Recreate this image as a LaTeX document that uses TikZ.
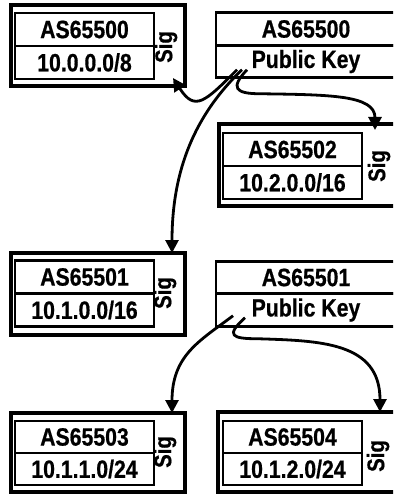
\documentclass[tikz,border=0pt]{standalone}
\usepackage{fontspec}
\setmainfont{Liberation Sans}[FakeStretch=0.85, FakeBold=0.6]
\usetikzlibrary{positioning,arrows.meta}

\begin{document}
\begin{tikzpicture}[x=1pt, y=-1pt,
    every node/.style={font=\bfseries\fontsize{25}{25}\selectfont, inner sep=0pt, outer sep=0pt},
    cert/.style={draw, line width=3.4pt, minimum width=174pt, minimum height=81pt},
    field/.style={draw, line width=2.9pt, minimum width=139pt, minimum height=33pt},
    keybox/.style={draw, line width=2.9pt, minimum width=180pt, minimum height=32.5pt},
    sig/.style={rotate=90, font=\bfseries\fontsize{24}{24}\selectfont},
    link/.style={line width=2.8pt, -{Triangle[length=13pt, width=13pt]}}]
    \useasboundingbox (0,0) rectangle (393,494);
    \clip (0,0) rectangle (393,494);

    % AS65500 certificate and key
    \node[cert] (c0) at (98,45.5) {};
    \node[field] (c0as) at (84.5,29.5) {AS65500};
    \node[field, below=0pt of c0as] (c0net) {10.0.0.0/8};
    \node[sig] (c0sig) at (166,47) {Sig};
    \node[keybox] (k0as) at (306,29) {AS65500};
    \node[keybox, below=0pt of k0as] (k0pub) {Public Key};

    % AS65502 certificate
    \node[cert, minimum width=178pt, minimum height=82pt] (c2) at (308,165) {};
    \node[field] (c2as) at (292.5,149.5) {AS65502};
    \node[field, below=0pt of c2as] (c2net) {10.2.0.0/16};
    \node[sig] (c2sig) at (379,166) {Sig};

    % AS65501 certificate and key
    \node[cert, minimum height=82pt] (c1) at (98,294) {};
    \node[field] (c1as) at (84.5,277) {AS65501};
    \node[field, below=0pt of c1as] (c1net) {10.1.0.0/16};
    \node[sig] (c1sig) at (165,293) {Sig};
    \node[keybox] (k1as) at (306,277.5) {AS65501};
    \node[keybox, below=0pt of k1as] (k1pub) {Public Key};

    % AS65503 / AS65504 certificates
    \node[cert, minimum height=79pt] (c3) at (98,452.5) {};
    \node[field, minimum height=32pt] (c3as) at (84.5,437) {AS65503};
    \node[field, minimum height=32pt, below=0pt of c3as] (c3net) {10.1.1.0/24};
    \node[sig] (c3sig) at (165,452) {Sig};
    \node[cert, minimum width=179pt, minimum height=80pt] (c4) at (307.5,452) {};
    \node[field, minimum height=32pt] (c4as) at (292.5,437) {AS65504};
    \node[field, minimum height=32pt, below=0pt of c4as] (c4net) {10.1.2.0/24};
    \node[sig] (c4sig) at (378,456) {Sig};

    % signing links
    \coordinate (k0s1) at ([shift={(21pt,8pt)}]k0pub.south west);
    \coordinate (k0s2) at ([shift={(26pt,8pt)}]k0pub.south west);
    \coordinate (k0s3) at ([shift={(31pt,8pt)}]k0pub.south west);
    \coordinate (k1s1) at ([shift={(17pt,10.5pt)}]k1pub.south west);
    \coordinate (k1s2) at ([shift={(29pt,8.5pt)}]k1pub.south west);
    \draw[link] (k0s1) .. controls +(-32,32) and +(22,34) .. ([shift={(-12pt,8pt)}]c0.south east);
    \draw[link] (k0s2) .. controls +(-47,45) and +(0,-83) .. ([xshift=-13pt]c1.north east);
    \draw[link] (k0s3) .. controls +(-17,18) and +(-25,0) .. ++(13,24)
        .. controls +(70,1) and +(0,-35) .. ([shift={(156pt,-6pt)}]c2.north west);
    \draw[link] (k1s1) .. controls +(-33,25) and +(0,-58) .. ([xshift=-13pt]c3.north east);
    \draw[link] (k1s2) .. controls +(-20,18) and +(-26,0) .. ++(13,21)
        .. controls +(62,2) and +(0,-70) .. ([xshift=162pt]c4.north west);
\end{tikzpicture}
\end{document}
